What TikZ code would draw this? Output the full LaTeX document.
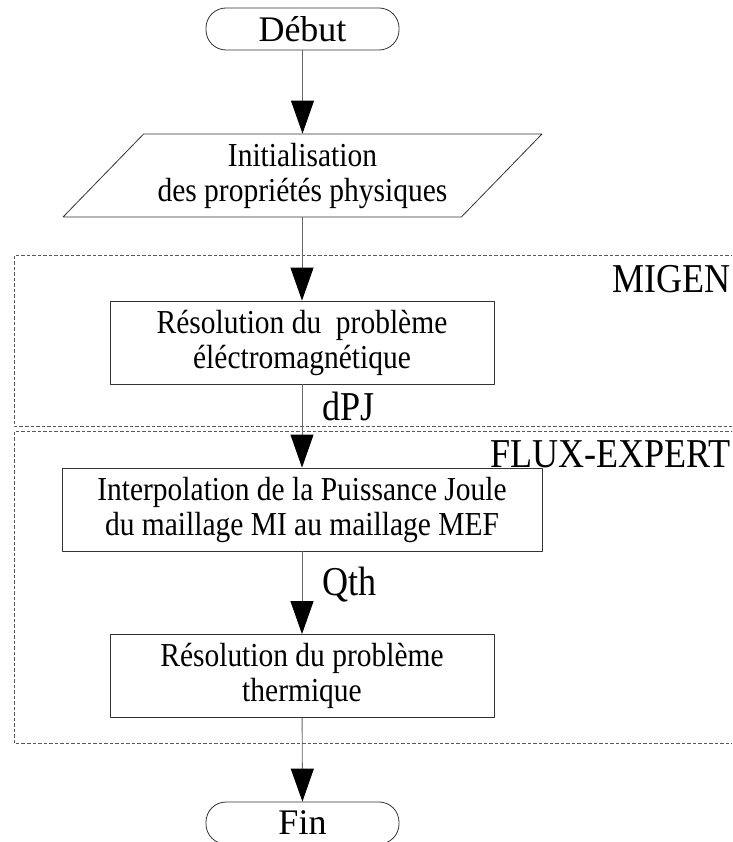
\documentclass[tikz,border=0pt]{standalone}
\usepackage{fontspec}
\setmainfont{Liberation Serif}
\newfontfamily\narrowserif[FakeStretch=0.88]{Liberation Serif}
\usetikzlibrary{arrows.meta,shapes.geometric}
\begin{document}
\begin{tikzpicture}[x=1pt,y=-1pt,line join=round,>={Triangle[length=33pt,width=23pt,color=black]}]
	\tikzset{box/.style={draw=black!80,line width=.8pt,minimum width=384pt,minimum height=83pt,align=center,inner sep=0pt,font=\narrowserif\fontsize{33.5}{35}\selectfont},
		term/.style={draw=black!80,line width=.8pt,rounded corners=20pt,minimum width=193pt,minimum height=42pt,inner sep=0pt,font=\fontsize{36}{40}\selectfont},
		flow/.style={->,draw=black!60,line width=.9pt},
		zone/.style={draw=black!65,line width=.7pt,dash pattern=on 3.5pt off 2pt},
		tag/.style={inner sep=0pt,font=\narrowserif\fontsize{41}{44}\selectfont}}
	\useasboundingbox (0,0) rectangle (732,842);
	\clip (0,0) rectangle (732,842);
	% zones
	\draw[zone] (745,255)--(14,255)--(14,426)--(745,426);
	\draw[zone] (745,431)--(14,431)--(14,743)--(745,743);
	\node[tag,anchor=base east] (migen) at (731,292) {MIGEN};
	\node[tag,anchor=base east] (flux) at (731,467) {FLUX-EXPERT};
	% steps
	\node[term] (debut) at (302.5,29) {Début};
	\node[box,trapezium,trapezium left angle=41.7,trapezium right angle=138.3,trapezium stretches=true,minimum width=479pt] (init) at (302.5,175.5) {Initialisation\\des propriétés physiques};
	\node[box] (resem) at (302,342.5) {Résolution du~ problème\\éléctromagnétique};
	\node[box,minimum width=480pt] (interp) at (302,509.5) {Interpolation de la Puissance Joule\\du maillage MI au maillage MEF};
	\node[box] (resth) at (302,676) {Résolution du problème\\thermique};
	\node[term] (fin) at (302.5,823) {Fin};
	% connectors
	\draw[flow] (debut) -- (debut.south |- init.north);
	\draw[flow] (init.south -| resem) -- (resem);
	\draw[flow] (resem) -- node[tag,anchor=base west,pos=.43,xshift=20pt] (dpj) {dPJ} (interp);
	\draw[flow] (interp) -- node[tag,anchor=base west,pos=.53,xshift=20pt] (qth) {Qth} (resth);
	\draw[flow] (resth) -- (fin);
\end{tikzpicture}
\end{document}
